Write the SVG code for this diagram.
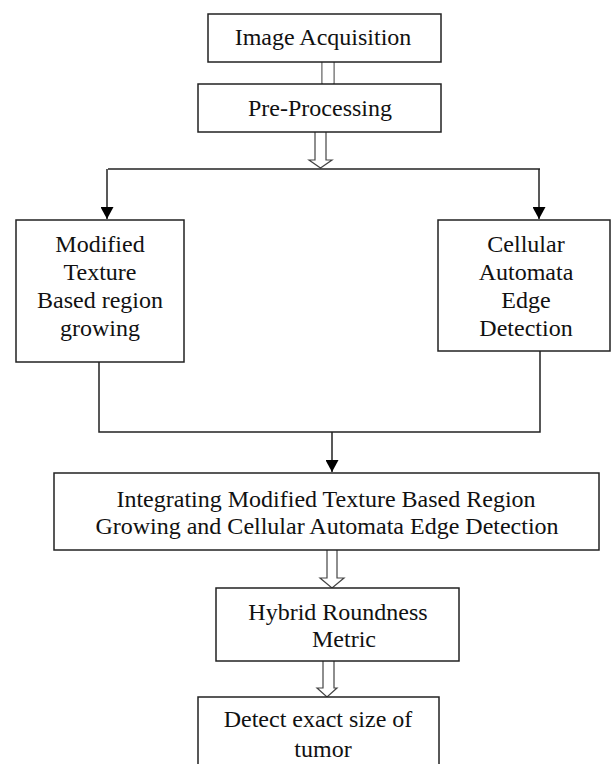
<svg xmlns="http://www.w3.org/2000/svg" width="611" height="764" viewBox="0 0 611 764">
<defs>
<style>
.box{fill:#fff;stroke:#222;stroke-width:1.5}
.t{font-family:'Liberation Serif','Times New Roman',Times,'Tinos','Nimbus Roman','DejaVu Serif',serif;font-size:24px;fill:#111;text-anchor:middle}
.ln{fill:none;stroke:#222;stroke-width:1.5}
.ha{fill:#fff;stroke:#444;stroke-width:1.2}
</style>
<marker id="ah" markerWidth="12" markerHeight="13" refX="12" refY="6.5" orient="auto" markerUnits="userSpaceOnUse">
<path d="M0,0 L12,6.5 L0,13 Z" fill="#000"/>
</marker>
</defs>
<rect width="611" height="764" fill="#fff"/>
<g id="connectors">
<path class="ha" d="M322,61 V84 M334,61 V84"/>
<rect x="322.7" y="62" width="10.6" height="21" fill="#fff" stroke="none"/>
<path class="ha" d="M315,132 V160 H309 L320.5,168 L332,160 H326 V132"/>
<path class="ln" d="M108,169 H540"/>
<path class="ln" d="M107,169 V219" marker-end="url(#ah)"/>
<path class="ln" d="M539,169 V219" marker-end="url(#ah)"/>
<path class="ln" d="M99,362 V432 H540 V351"/>
<path class="ln" d="M332,432 V472" marker-end="url(#ah)"/>
<path class="ha" d="M327,550 V578 H320 L332,588 L344,578 H337 V550"/>
<path class="ha" d="M323,661 V688 H317 L327,697 L337,688 H334 V661"/>
</g>
<g id="image-acquisition">
<rect class="box" x="208" y="14" width="233" height="48"/>
<text class="t" x="323" y="45" font-family="Liberation Serif, serif">Image Acquisition</text>
</g>
<g id="pre-processing">
<rect class="box" x="198" y="84" width="243" height="48"/>
<text class="t" x="320" y="116">Pre-Processing</text>
</g>
<g id="modified-texture">
<rect class="box" x="16" y="220" width="168" height="142"/>
<text class="t" x="100" y="252">Modified</text>
<text class="t" x="100" y="280">Texture</text>
<text class="t" x="100" y="308">Based region</text>
<text class="t" x="100" y="336">growing</text>
</g>
<g id="cellular-automata">
<rect class="box" x="438" y="220" width="172" height="131"/>
<text class="t" x="526" y="252">Cellular</text>
<text class="t" x="526" y="280">Automata</text>
<text class="t" x="526" y="308">Edge</text>
<text class="t" x="526" y="336">Detection</text>
</g>
<g id="integrating">
<rect class="box" x="54" y="473" width="545" height="77"/>
<text class="t" x="326" y="507">Integrating Modified Texture Based Region</text>
<text class="t" x="327" y="534">Growing and Cellular Automata Edge Detection</text>
</g>
<g id="hybrid-roundness">
<rect class="box" x="216" y="588" width="243" height="73"/>
<text class="t" x="338" y="620">Hybrid Roundness</text>
<text class="t" x="344" y="647">Metric</text>
</g>
<g id="detect-size">
<rect class="box" x="198" y="697" width="241" height="80"/>
<text class="t" x="318" y="727">Detect exact size of</text>
<text class="t" x="323" y="757">tumor</text>
</g>
</svg>
